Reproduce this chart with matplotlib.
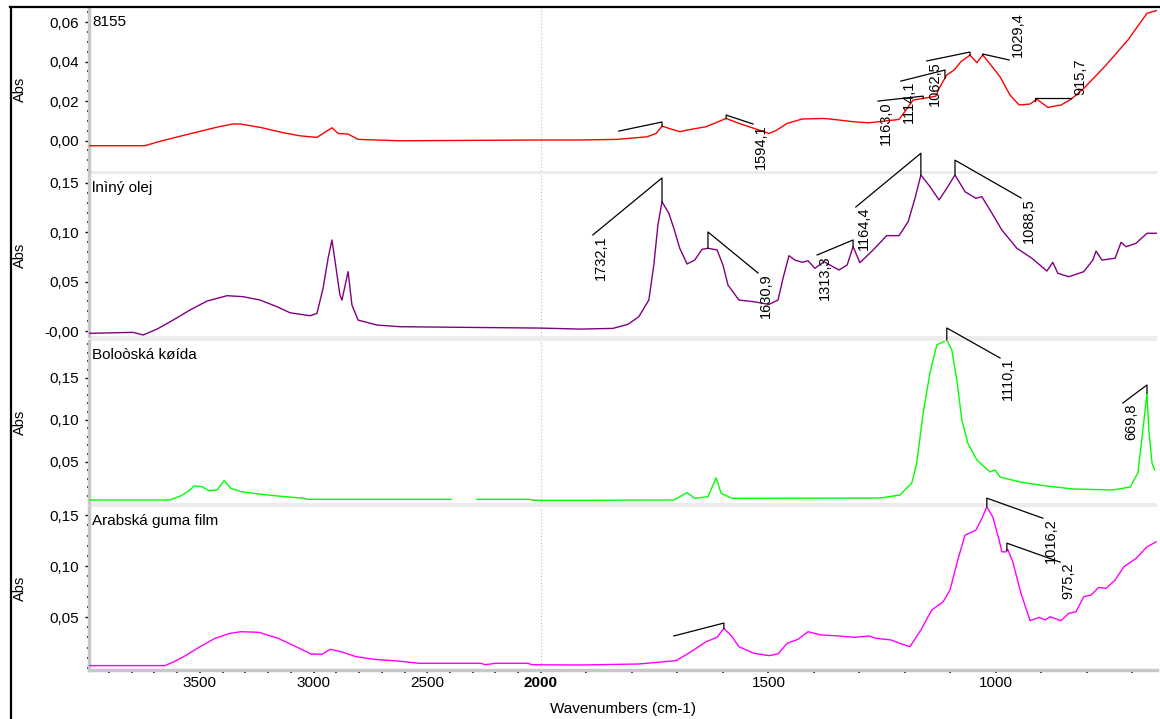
import numpy as np
import matplotlib
matplotlib.use('Agg')
import matplotlib.pyplot as plt
from matplotlib.ticker import FixedLocator, MultipleLocator
from matplotlib.patches import Rectangle
from matplotlib.lines import Line2D

plt.rcParams['font.family'] = ['Liberation Sans', 'DejaVu Sans']

# ---------------- data ----------------
titles = ["8155", "lnìný olej", "Boloòská køída", "Arabská guma film"]
colors = ["#ff0000", "#800080", "#00ff00", "#ff00ff"]

wn_8155 = [3987, 3741, 3688, 3618, 3530, 3424, 3354, 3323, 3235, 3134, 3059, 2985, 2958, 2919,
           2892, 2848, 2804, 2620, 2000, 1914, 1833, 1767, 1747, 1734, 1719, 1695, 1670, 1637,
           1593, 1565, 1532, 1499, 1484, 1459, 1426, 1378, 1345, 1312, 1279, 1213, 1198, 1182,
           1158, 1132, 1125, 1108, 1092, 1077, 1057, 1042, 1029, 1011, 991, 969, 949, 925, 910,
           886, 857, 835, 807, 758, 710, 668, 644]
abs_8155 = [-0.0026, -0.0026, -0.0008, 0.0013, 0.0038, 0.0068, 0.0084, 0.0084, 0.0067, 0.0040,
            0.0024, 0.0016, 0.0036, 0.0065, 0.0036, 0.0033, 0.0006, -0.0001, 0.0003, 0.0003,
            0.0006, 0.0019, 0.0036, 0.0073, 0.0062, 0.0045, 0.0057, 0.0070, 0.0112, 0.0087,
            0.0062, 0.0036, 0.0050, 0.0087, 0.0109, 0.0112, 0.0104, 0.0095, 0.0090, 0.0107,
            0.0154, 0.0205, 0.0214, 0.0225, 0.0264, 0.0332, 0.0357, 0.0399, 0.0433, 0.0394,
            0.0433, 0.0382, 0.0323, 0.0230, 0.0180, 0.0185, 0.0209, 0.0168, 0.0180, 0.0209,
            0.0264, 0.0382, 0.0509, 0.0644, 0.0660]

wn_olej = [3987, 3793, 3749, 3688, 3618, 3543, 3468, 3380, 3310, 3235, 3160, 3103, 3015, 2985,
           2958, 2936, 2919, 2905, 2884, 2875, 2848, 2831, 2804, 2721, 2620, 2000, 1914, 1842,
           1809, 1785, 1763, 1752, 1743, 1734, 1719, 1708, 1695, 1679, 1662, 1646, 1633, 1613,
           1600, 1589, 1565, 1532, 1499, 1479, 1468, 1455, 1442, 1426, 1413, 1398, 1378, 1345,
           1327, 1314, 1299, 1270, 1240, 1213, 1193, 1178, 1165, 1145, 1125, 1108, 1090, 1068,
           1044, 1031, 1011, 987, 954, 921, 888, 875, 864, 840, 807, 787, 780, 767, 738, 725,
           714, 692, 668, 646]
abs_olej = [-0.0023, -0.0013, -0.0040, 0.0020, 0.0110, 0.0213, 0.0304, 0.0358, 0.0348, 0.0314,
            0.0246, 0.0185, 0.0155, 0.0179, 0.0433, 0.0737, 0.0922, 0.0702, 0.0365, 0.0314,
            0.0601, 0.0263, 0.0111, 0.0061, 0.0044, 0.0030, 0.0020, 0.0027, 0.0068, 0.0145,
            0.0314, 0.0669, 0.1074, 0.1310, 0.1192, 0.1040, 0.0838, 0.0679, 0.0719, 0.0828,
            0.0838, 0.0821, 0.0669, 0.0466, 0.0314, 0.0297, 0.0270, 0.0314, 0.0534, 0.0763,
            0.0719, 0.0696, 0.0712, 0.0635, 0.0702, 0.0618, 0.0669, 0.0854, 0.0692, 0.0821,
            0.0966, 0.0966, 0.1107, 0.1344, 0.1580, 0.1462, 0.1327, 0.1446, 0.1580, 0.1411,
            0.1344, 0.1361, 0.1209, 0.1023, 0.0838, 0.0737, 0.0608, 0.0696, 0.0585, 0.0550,
            0.0601, 0.0719, 0.0810, 0.0719, 0.0737, 0.0899, 0.0854, 0.0889, 0.0990, 0.0990]

wn_krida = [3987, 3631, 3582, 3547, 3525, 3490, 3459, 3424, 3393, 3363, 3319, 3240, 3156, 3042,
            3029, 2396, 2340, 2281, 2048, 2035, 1914, 1708, 1679, 1662, 1633, 1615, 1604, 1580,
            1255, 1211, 1185, 1174, 1160, 1145, 1130, 1108, 1097, 1086, 1075, 1062, 1042, 1013,
            1002, 991, 947, 888, 831, 743, 705, 688, 677, 668, 664, 657, 651]
abs_krida = [0.0048, 0.0048, 0.0099, 0.0158, 0.0214, 0.0206, 0.0158, 0.0167, 0.0278, 0.0187,
             0.0147, 0.0119, 0.0095, 0.0068, 0.0056, 0.0056, np.nan, 0.0056, 0.0056, 0.0044,
             0.0044, 0.0048, 0.0135, 0.0068, 0.0087, 0.0313, 0.0127, 0.0068, 0.0071, 0.0107,
             0.0250, 0.0488, 0.1083, 0.1560, 0.1893, 0.1952, 0.1833, 0.1476, 0.1000, 0.0726,
             0.0524, 0.0381, 0.0405, 0.0321, 0.0262, 0.0214, 0.0179, 0.0167, 0.0202, 0.0369,
             0.0881, 0.1321, 0.0881, 0.0488, 0.0405]

wn_guma = [3987, 3653, 3613, 3565, 3499, 3433, 3367, 3319, 3240, 3156, 3077, 3011, 2963, 2927,
           2879, 2813, 2734, 2620, 2536, 2264, 2246, 2198, 2057, 2040, 1914, 1785, 1703, 1670,
           1637, 1613, 1598, 1580, 1565, 1532, 1499, 1479, 1459, 1435, 1413, 1385, 1345, 1312,
           1279, 1264, 1231, 1207, 1189, 1165, 1141, 1116, 1101, 1084, 1068, 1044, 1031, 1020,
           1007, 993, 987, 978, 974, 963, 945, 925, 905, 892, 881, 857, 840, 824, 807, 791, 774,
           758, 738, 719, 692, 668, 648]
abs_guma = [0.0023, 0.0023, 0.0062, 0.0118, 0.0209, 0.0291, 0.0340, 0.0356, 0.0350, 0.0291,
            0.0209, 0.0137, 0.0134, 0.0183, 0.0160, 0.0111, 0.0085, 0.0066, 0.0046, 0.0046,
            0.0032, 0.0046, 0.0046, 0.0032, 0.0029, 0.0039, 0.0072, 0.0160, 0.0258, 0.0301,
            0.0389, 0.0307, 0.0209, 0.0144, 0.0121, 0.0137, 0.0242, 0.0281, 0.0356, 0.0324,
            0.0314, 0.0301, 0.0314, 0.0291, 0.0275, 0.0235, 0.0209, 0.0373, 0.0569, 0.0650,
            0.0765, 0.1059, 0.1304, 0.1353, 0.1468, 0.1582, 0.1483, 0.1255, 0.1140, 0.1140,
            0.1164, 0.1042, 0.0732, 0.0464, 0.0497, 0.0471, 0.0503, 0.0464, 0.0536, 0.0552,
            0.0699, 0.0716, 0.0791, 0.0781, 0.0863, 0.0993, 0.1075, 0.1189, 0.1238]

# peak labels per panel
labels_8155 = [None, "1594,1", "1163,0", "1114,1", "1062,5", "1029,4", "915,7"]
labels_olej = ["1732,1", "1630,9", "1313,3", "1164,4", "1088,5"]
labels_krida = ["1110,1", "669,8"]
labels_guma = [None, "1016,2", "975,2"]

y_ticks = [[0.0, 0.02, 0.04, 0.06], [0.0, 0.05, 0.10, 0.15], [0.05, 0.10, 0.15], [0.05, 0.10, 0.15]]
y_ticklabels = [["0,00", "0,02", "0,04", "0,06"], ["-0,00", "0,05", "0,10", "0,15"],
                ["0,05", "0,10", "0,15"], ["0,05", "0,10", "0,15"]]
x_ticks = [3500, 3000, 2500, 2000, 1500, 1000]
x_ticklabels = ["3500", "3000", "2500", "2000", "1500", "1000"]

# ---------------- layout ----------------
W, H = 1160, 719
fig = plt.figure(figsize=(W / 100, H / 100), dpi=100)
fig.patch.set_facecolor('white')

# panel boxes in pixels (top, bottom)
LEFT, RIGHT = 89, 1157
boxes = [(8, 171), (174, 336), (341, 503), (507, 670)]
ylims = [(-0.0154, 0.0671), (-0.005, 0.159), (0.0012, 0.194), (-0.002, 0.158)]
minor_steps = [0.005, 0.01, 0.01, 0.01]
XLIM = (3987, 646)

# annotation geometry: (peak wn, vertical top value, line end wn, line end value, text va)
geo = [
    [(1734, 0.0094, 1829, 0.0048, 'top'), (1593, 0.0129, 1534, 0.0084, 'top'),
     (1160, 0.0225, 1259, 0.0200, 'top'), (1112, 0.0357, 1209, 0.0301, 'top'),
     (1057, 0.0448, 1152, 0.0403, 'top'), (1029, 0.0438, 971, 0.0408, 'bottom'),
     (914, 0.0215, 835, 0.0215, 'bottom')],
    [(1734, 0.155, 1886, 0.0973, 'top'), (1633, 0.1003, 1523, 0.0588, 'top'),
     (1314, 0.0922, 1393, 0.0770, 'top'), (1165, 0.1800, 1308, 0.1256, 'top'),
     (1090, 0.1730, 945, 0.1348, 'top')],
    [(1108, 0.2095, 991, 0.1738, 'top'), (668, 0.1417, 721, 0.1202, 'top')],
    [(1598, 0.0441, 1708, 0.0314, 'top'), (1020, 0.1667, 897, 0.1470, 'top'),
     (976, 0.1225, 859, 0.1039, 'top')],
]


def fwd(x):
    x = np.asarray(x, float)
    return np.where(x > 2000, 2000 + (x - 2000) / 2.0, x)


def inv(y):
    y = np.asarray(y, float)
    return np.where(y > 2000, 2000 + (y - 2000) * 2.0, y)


series = [(wn_8155, abs_8155), (wn_olej, abs_olej), (wn_krida, abs_krida), (wn_guma, abs_guma)]
all_labels = [labels_8155, labels_olej, labels_krida, labels_guma]

# light grey separator bands between panels
for (t1, b1), (t2, b2) in zip(boxes[:-1], boxes[1:]):
    fig.patches.append(Rectangle((LEFT / W, 1 - t2 / H), (RIGHT - LEFT) / W, (t2 - b1) / H,
                                 transform=fig.transFigure, facecolor='#ececec',
                                 edgecolor='none', zorder=-5))

axes = []
for i, ((top, bot), (wn, ab)) in enumerate(zip(boxes, series)):
    ax = fig.add_axes([LEFT / W, 1 - bot / H, (RIGHT - LEFT) / W, (bot - top) / H])
    ax.set_facecolor('none')
    ax.set_xscale('function', functions=(fwd, inv))
    ax.set_xlim(*XLIM)
    ax.set_ylim(*ylims[i])
    wn = np.array(wn, float)
    ab = np.array(ab, float)
    ax.plot(wn, ab, color=colors[i], lw=1.0, zorder=3)
    ax.axvline(2000, color='#bdbdbd', lw=0.8, ls=(0, (1, 2)), zorder=1)

    for s in ['top', 'right', 'bottom']:
        ax.spines[s].set_visible(False)
    ax.spines['left'].set_color('#c8c8c8')
    ax.spines['left'].set_linewidth(2.5)

    ax.yaxis.set_major_locator(FixedLocator(y_ticks[i]))
    ax.set_yticklabels(y_ticklabels[i])
    ax.yaxis.set_minor_locator(MultipleLocator(minor_steps[i]))
    ax.tick_params(axis='y', which='major', length=3, width=1, color='black',
                   labelsize=11, pad=4)
    ax.tick_params(axis='y', which='minor', length=1.5, width=1.2, color='black')

    if i < 3:
        ax.tick_params(axis='x', which='both', bottom=False, labelbottom=False)
    else:
        ax.spines['bottom'].set_visible(True)
        ax.spines['bottom'].set_color('#c8c8c8')
        ax.spines['bottom'].set_linewidth(2.5)
        ax.set_xticks(x_ticks, labels=x_ticklabels)
        ax.xaxis.set_minor_locator(FixedLocator(np.arange(700, 4000, 100)))
        ax.tick_params(axis='x', which='major', length=2, width=1.2, color='black',
                       labelsize=11, pad=2)
        ax.tick_params(axis='x', which='minor', length=2, width=1.2, color='black')
        for lbl in ax.get_xticklabels():
            if lbl.get_text() == "2000":
                lbl.set_fontweight('bold')
        ax.set_xlabel("Wavenumbers (cm-1)", fontsize=11, labelpad=9)

    ax.text(3 / (RIGHT - LEFT), 1 - 14 / (bot - top), titles[i], transform=ax.transAxes,
            ha='left', va='center', fontsize=11)

    # peak annotations
    ok = ~np.isnan(ab)
    for (pk, vtop, ew, ev, va), lab in zip(geo[i], all_labels[i]):
        yp = np.interp(pk, wn[ok][::-1], ab[ok][::-1])
        ax.plot([pk, pk, ew], [yp, vtop, ev], color='black', lw=0.9, clip_on=False, zorder=4)
        if lab:
            off = (8, 0) if va == 'top' else (9, 3)
            ax.annotate(lab, xy=(ew, ev), xytext=off, textcoords='offset pixels',
                        rotation=90, ha='center', va=va, fontsize=10.5,
                        annotation_clip=False, zorder=5)
    axes.append(ax)

    fig.text(20 / W, 1 - (top + bot) / 2 / H, "Abs", rotation=90, ha='center', va='center',
             fontsize=10.5)

# outer black frame (top & left)
fig.add_artist(Line2D([10.5 / W, 10.5 / W], [0, 1 - 7 / H], transform=fig.transFigure,
                      color='black', lw=1.6))
fig.add_artist(Line2D([10 / W, 1], [1 - 7 / H, 1 - 7 / H], transform=fig.transFigure,
                      color='black', lw=1.6))

fig.savefig("out.png", dpi=100, facecolor='white')
